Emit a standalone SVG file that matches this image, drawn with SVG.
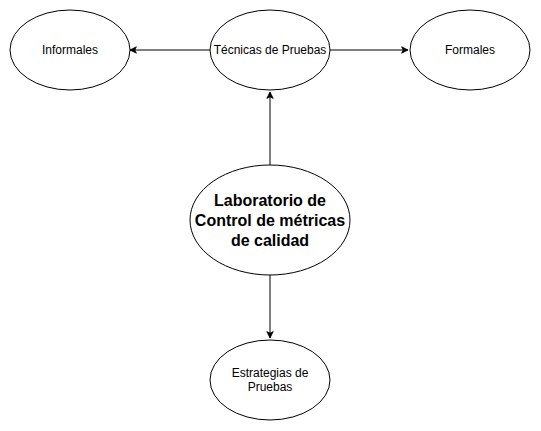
<svg xmlns="http://www.w3.org/2000/svg" width="541" height="431" viewBox="0 0 541 431">
<defs>
<style>
ellipse{fill:#fff;stroke:#000;stroke-width:1}
text{font-family:"Liberation Sans",Arial,sans-serif;font-size:12px;fill:#000;text-anchor:middle}
.big{font-size:16px;font-weight:bold}
.edge{stroke:#000;stroke-width:1;fill:none;marker-end:url(#arr)}
</style>
<marker id="arr" viewBox="0 0 10 10" refX="9" refY="5" markerWidth="8" markerHeight="8" markerUnits="userSpaceOnUse" orient="auto">
<path d="M1,1 L9,5 L1,9 L3,5 Z" fill="#000" stroke="#000" stroke-width="1"/>
</marker>
</defs>
<rect width="541" height="431" fill="#fff"/>
<g id="connectors">
<path class="edge" d="M210,50 L130,50"/>
<path class="edge" d="M330,50 L408,50"/>
<path class="edge" d="M270,165 L270,92"/>
<path class="edge" d="M270,275 L270,338"/>
</g>
<g id="informales"><ellipse cx="70" cy="50" rx="60" ry="40"/><text x="70" y="54">Informales</text></g>
<g id="tecnicas"><ellipse cx="270" cy="50" rx="60" ry="40"/><text x="270" y="54">Técnicas de Pruebas</text></g>
<g id="formales"><ellipse cx="470" cy="50" rx="60" ry="40"/><text x="470" y="54">Formales</text></g>
<g id="laboratorio"><ellipse cx="270" cy="220" rx="80" ry="55"/>
<text class="big" x="270" y="206">Laboratorio de</text>
<text class="big" x="270" y="226">Control de métricas</text>
<text class="big" x="270" y="246">de calidad</text></g>
<g id="estrategias"><ellipse cx="270" cy="380" rx="60" ry="40"/>
<text x="270" y="377">Estrategias de</text>
<text x="270" y="391">Pruebas</text></g>
</svg>
